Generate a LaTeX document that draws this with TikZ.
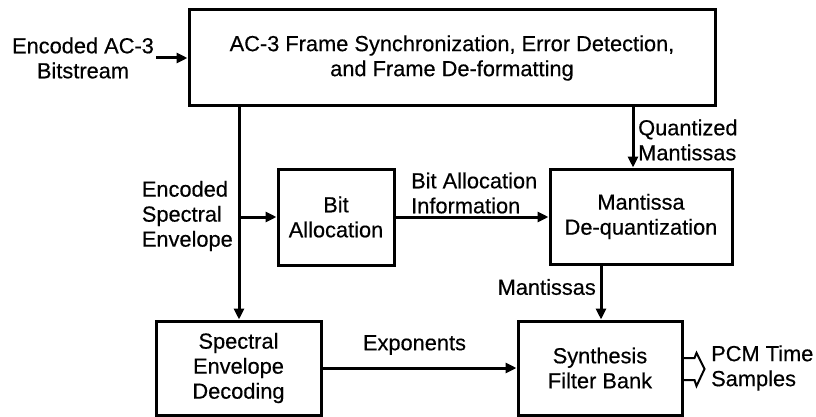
\documentclass[tikz,border=0pt]{standalone}
\usepackage{fontspec}
\setmainfont[FakeBold=0.4]{Liberation Sans}
\usetikzlibrary{arrows.meta}
\begin{document}
\begin{tikzpicture}[x=1pt,y=-1pt,
  font=\fontsize{21.8}{25}\selectfont,
  blk/.style={draw, line width=3pt, align=center, inner sep=0pt},
  lbl/.style={inner sep=0pt},
  flow/.style={line width=3pt, -{Triangle[length=11pt,width=10pt]}}]
\useasboundingbox (0,0) rectangle (816,417);

% processing blocks
\node[blk, minimum width=526pt, minimum height=96pt] (frame) at (452,58)
  {AC-3 Frame Synchronization, Error Detection,\\and Frame De-formatting};
\node[blk, minimum width=116pt, minimum height=96pt] (bitalloc) at (336,217)
  {Bit\\Allocation};
\node[blk, minimum width=182pt, minimum height=95pt] (mant) at (641,216.5)
  {Mantissa\\De-quantization};
\node[blk, minimum width=165pt, minimum height=94pt] (spec) at (238.5,368)
  {Spectral\\Envelope\\Decoding};
\node[blk, minimum width=164pt, minimum height=94pt] (synth) at (600,368)
  {Synthesis\\Filter Bank};

% guide coordinates for the vertical connectors
\coordinate (spine) at (239,0);
\coordinate (qcol) at (633,0);
\coordinate (mcol) at (601,0);
\coordinate (inp) at (156,58);

% input
\node[lbl, align=center] (inlbl) at (83,58) {Encoded AC-3\\Bitstream};
\draw[flow] (inp) -- (frame.west);

% spectral envelope path
\draw[flow] (frame.south -| spine) -- (spec.north -| spine);
\draw[flow] (bitalloc.west -| spine) -- (bitalloc.west);
\node[lbl, align=left, anchor=east] (envlbl) at (233,216)
  {Encoded\\Spectral\\Envelope};

% bit allocation to de-quantization
\draw[flow] (bitalloc.east) -- (mant.west |- bitalloc.east);
\node[lbl, align=left, anchor=west] (balbl) at (411,193)
  {Bit Allocation\\Information};

% mantissas
\draw[flow] (frame.south -| qcol) -- (mant.north -| qcol);
\node[lbl, align=left, anchor=west] (qlbl) at (638,140)
  {Quantized\\Mantissas};
\draw[flow] (mant.south -| mcol) -- (synth.north -| mcol);
\node[lbl, anchor=east] (mlbl) at (596,287) {Mantissas};

% exponents
\draw[flow] (spec.east) -- (synth.west);
\node[lbl] (explbl) at (414.5,345) {Exponents};

% hollow output arrow
\coordinate (oa) at (synth.east);
\draw[line width=2pt, line join=miter]
  ([yshift=10pt]oa) -- ++(11,0) -- ++(2,-5) -- ++(8,16) -- ++(-8,17) -- ++(-2,-6) -- ++(-11,0);
\node[lbl, align=left, anchor=west] (pcmlbl) at (711,368)
  {PCM Time\\Samples};
\end{tikzpicture}
\end{document}
